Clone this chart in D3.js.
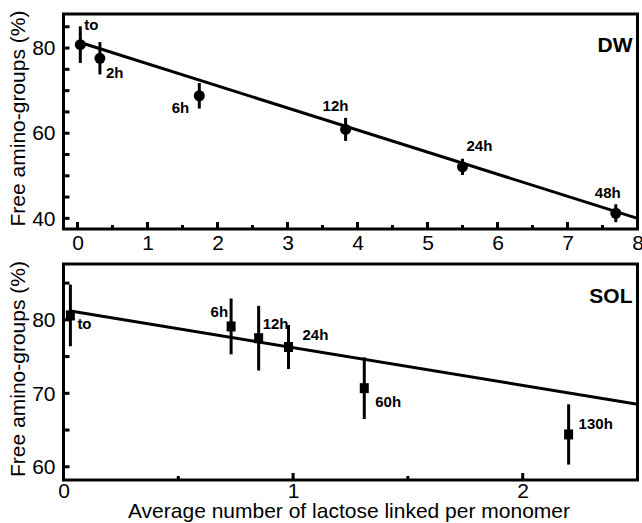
<!DOCTYPE html>
<html lang="en">
<head>
  <meta charset="UTF-8" />
  <title>Free amino-groups vs lactose linked</title>
  <script src="https://d3js.org/d3.v7.min.js"></script>
  <style>
    body { margin: 0; background: #fff; }
    svg { display: block; }
    text { font-family: "Liberation Sans", Arial, sans-serif; fill: #000; }
    .tick text { font-size: 21px; }
    .pt-label { font-size: 15px; font-weight: bold; }
    .panel-name { font-size: 21px; font-weight: bold; }
    .axis-title { font-size: 21px; }
  </style>
</head>
<body>
<svg id="chart" width="642" height="523"></svg>
<script>
// DW panel (dry way)
const dwX = [0.04, 0.32, 1.74, 3.83, 5.50, 7.69];
const dwY = [80.8, 77.6, 68.8, 60.9, 52.1, 41.2];
const dwErr = [4.3, 3.8, 3.0, 2.7, 1.9, 2.1];
const dwLabels = ["to", "2h", "6h", "12h", "24h", "48h"];
const dwFitX = [0.04, 8];
const dwFitY = [81.3, 40.0];

// SOL panel
const solX = [0.03, 0.73, 0.85, 0.98, 1.31, 2.20];
const solY = [80.6, 79.1, 77.5, 76.3, 70.7, 64.4];
const solErr = [4.2, 3.8, 4.4, 3.0, 4.2, 4.1];
const solLabels = ["to", "6h", "12h", "24h", "60h", "130h"];
const solFitX = [0.03, 2.5];
const solFitY = [81.2, 68.5];

// label placement, px from the marker: [dx, dy, anchor]
const dwLabelPos = [[4, -15, "start"], [6, 20, "start"], [-10, 17, "end"], [-23, -18, "start"], [4, -16, "start"], [-21, -15, "start"]];
const solLabelPos = [[7, 14, "start"], [-3, -9, "end"], [4, -9, "start"], [14, -7, "start"], [11, 19, "start"], [10, -5, "start"]];

const svg = d3.select("#chart");
const left = 63.5, right = 637.5;

function panel(cfg) {
  const x = d3.scaleLinear().domain(cfg.xDomain).range([left, right]);
  const y = d3.scaleLinear().domain(cfg.yDomain).range([cfg.bottom, cfg.top]);
  const g = svg.append("g");

  // x axis, inward ticks
  const xa = g.append("g")
    .attr("transform", `translate(0,${cfg.bottom})`)
    .call(d3.axisBottom(x)
      .tickValues(cfg.xTicks)
      .tickSize(0)
      .tickPadding(cfg.xPad)
      .tickFormat(d => Number.isInteger(d) ? d : ""));
  xa.select(".domain").remove();
  xa.selectAll(".tick line").remove();
  g.selectAll("line.xt").data(cfg.xTicks).enter().append("line")
    .attr("x1", d => x(d)).attr("x2", d => x(d))
    .attr("y1", cfg.bottom)
    .attr("y2", d => cfg.bottom - (Number.isInteger(d) ? 7 : 4))
    .attr("stroke", "#000").attr("stroke-width", 3);

  // y axis, inward ticks
  const ya = g.append("g")
    .attr("transform", `translate(${left},0)`)
    .call(d3.axisLeft(y)
      .tickValues(cfg.yTicks)
      .tickSize(0)
      .tickPadding(8)
      .tickFormat(d => cfg.yLabels.includes(d) ? d : ""));
  ya.select(".domain").remove();
  ya.selectAll(".tick line").remove();
  g.selectAll("line.yt").data(cfg.yTicks).enter().append("line")
    .attr("x1", left).attr("x2", left + 6)
    .attr("y1", d => y(d)).attr("y2", d => y(d))
    .attr("stroke", "#000").attr("stroke-width", 3);

  // frame
  g.append("rect")
    .attr("x", left).attr("y", cfg.top)
    .attr("width", right - left).attr("height", cfg.bottom - cfg.top)
    .attr("fill", "none").attr("stroke", "#000").attr("stroke-width", 3);

  // fitted line
  g.append("line")
    .attr("x1", x(cfg.fitX[0])).attr("y1", y(cfg.fitY[0]))
    .attr("x2", x(cfg.fitX[1])).attr("y2", y(cfg.fitY[1]))
    .attr("stroke", "#000").attr("stroke-width", 3);

  const idx = d3.range(cfg.xs.length);

  // error bars
  g.selectAll("line.err").data(idx).enter().append("line")
    .attr("x1", i => x(cfg.xs[i])).attr("x2", i => x(cfg.xs[i]))
    .attr("y1", i => y(cfg.ys[i] + cfg.err[i]))
    .attr("y2", i => y(cfg.ys[i] - cfg.err[i]))
    .attr("stroke", "#000").attr("stroke-width", 3);

  // markers
  if (cfg.shape === "circle") {
    g.selectAll("circle.pt").data(idx).enter().append("circle")
      .attr("cx", i => x(cfg.xs[i])).attr("cy", i => y(cfg.ys[i]))
      .attr("r", 5.5).attr("fill", "#000");
  } else {
    g.selectAll("rect.pt").data(idx).enter().append("rect")
      .attr("x", i => x(cfg.xs[i]) - 4.5).attr("y", i => y(cfg.ys[i]) - 5)
      .attr("width", 9).attr("height", 10).attr("fill", "#000");
  }

  // point labels
  g.selectAll("text.pt-label").data(idx).enter().append("text")
    .attr("class", "pt-label")
    .attr("x", i => x(cfg.xs[i]) + cfg.labelPos[i][0])
    .attr("y", i => y(cfg.ys[i]) + cfg.labelPos[i][1])
    .attr("text-anchor", i => cfg.labelPos[i][2])
    .text(i => cfg.labels[i]);

  g.append("text").attr("class", "panel-name")
    .attr("x", right - 5).attr("y", cfg.nameY)
    .attr("text-anchor", "end")
    .text(cfg.name);

  g.append("text").attr("class", "axis-title")
    .attr("transform", `translate(25,${(cfg.top + cfg.bottom) / 2 - 3}) rotate(-90)`)
    .attr("text-anchor", "middle")
    .text("Free amino-groups (%)");
}

panel({
  top: 14, bottom: 229,
  xDomain: [-0.2, 8], yDomain: [37.5, 88],
  xTicks: d3.range(0, 8.01, 0.5), yTicks: d3.range(40, 86, 5), yLabels: [40, 60, 80],
  xPad: 6,
  xs: dwX, ys: dwY, err: dwErr, labels: dwLabels, labelPos: dwLabelPos,
  fitX: dwFitX, fitY: dwFitY, shape: "circle", name: "DW", nameY: 52
});

panel({
  top: 264, bottom: 480,
  xDomain: [0, 2.5], yDomain: [58.2, 87.6],
  xTicks: d3.range(0, 2.51, 0.5), yTicks: d3.range(60, 86, 5), yLabels: [60, 70, 80],
  xPad: 3,
  xs: solX, ys: solY, err: solErr, labels: solLabels, labelPos: solLabelPos,
  fitX: solFitX, fitY: solFitY, shape: "square", name: "SOL", nameY: 303
});

svg.append("text").attr("class", "axis-title")
  .attr("x", 349).attr("y", 518)
  .attr("text-anchor", "middle")
  .text("Average number of lactose linked per monomer");
</script>
</body>
</html>
